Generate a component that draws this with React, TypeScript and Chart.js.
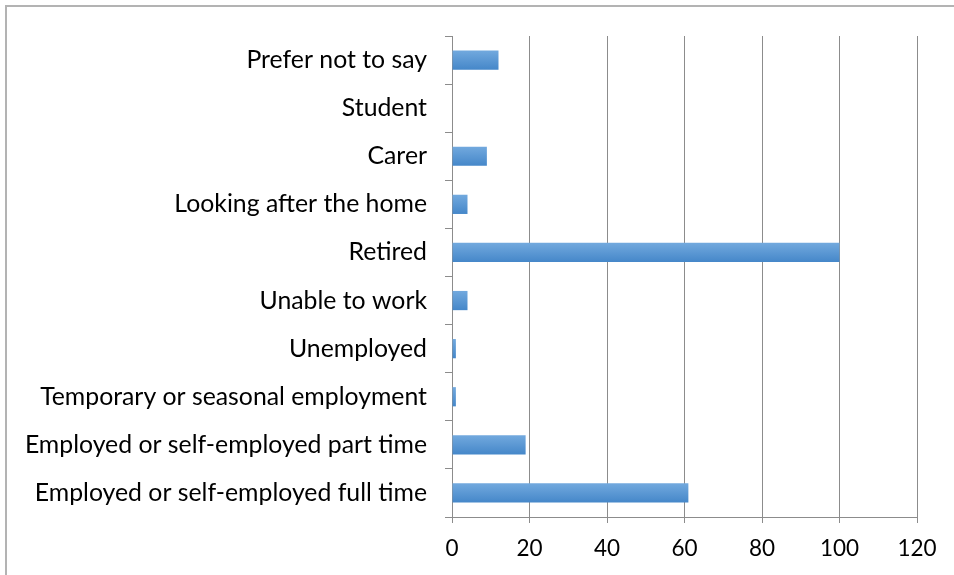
import React, { useEffect, useRef } from "react";
import { Chart, registerables } from "chart.js";

Chart.register(...registerables);

const categories = [
  "Prefer not to say",
  "Student",
  "Carer",
  "Looking after the home",
  "Retired",
  "Unable to work",
  "Unemployed",
  "Temporary or seasonal employment",
  "Employed or self-employed part time",
  "Employed or self-employed full time",
];
const counts = [12, 0, 9, 4, 100, 4, 1, 1, 19, 61];
const xMin = 0;
const xMax = 120;
const xStep = 20;

const FONT = "Lato, 'Open Sans', sans-serif";
const AXIS_GRAY = "#8c8c8c";

export default function App() {
  const ref = useRef<HTMLCanvasElement | null>(null);

  useEffect(() => {
    if (!ref.current) return;
    const chart = new Chart(ref.current, {
      type: "bar",
      data: {
        labels: categories,
        datasets: [
          {
            data: counts,
            barPercentage: 0.4,
            categoryPercentage: 1,
            borderWidth: 0,
            backgroundColor: (c: any) => {
              const ch = c.chart;
              const ys = ch.scales && ch.scales.y;
              if (!ys || c.type !== "data") return "#5b9bd5";
              const yc = ys.getPixelForValue(c.dataIndex);
              const step = Math.abs(ys.getPixelForValue(1) - ys.getPixelForValue(0));
              const half = (step * 0.4) / 2;
              if (!Number.isFinite(yc) || !Number.isFinite(half) || half <= 0) return "#5b9bd5";
              const g = ch.ctx.createLinearGradient(0, yc - half, 0, yc + half);
              g.addColorStop(0, "#72a9de");
              g.addColorStop(1, "#4587c9");
              return g;
            },
          },
        ],
      },
      options: {
        indexAxis: "y",
        responsive: true,
        maintainAspectRatio: false,
        animation: false,
        layout: { padding: { top: 36, right: 37, bottom: 0, left: 10 } },
        plugins: {
          legend: { display: false },
          tooltip: { enabled: false },
        },
        scales: {
          x: {
            min: xMin,
            max: xMax,
            ticks: {
              stepSize: xStep,
              color: "#000",
              padding: 12,
              font: { family: FONT, size: 22.5 },
            },
            grid: {
              color: AXIS_GRAY,
              lineWidth: 1,
              drawTicks: true,
              tickLength: 6,
            },
            border: { color: AXIS_GRAY, width: 1 },
            afterFit: (s: any) => {
              s.height = 58;
            },
          },
          y: {
            ticks: {
              color: "#000",
              padding: 18,
              autoSkip: false,
              font: { family: FONT, size: 24.8 },
            },
            grid: {
              color: AXIS_GRAY,
              drawOnChartArea: false,
              drawTicks: true,
              tickLength: 7,
            },
            border: { color: AXIS_GRAY, width: 1 },
            afterFit: (s: any) => {
              s.width = 442;
            },
          },
        },
      },
    } as any);
    return () => chart.destroy();
  }, []);

  return (
    <div
      style={{
        position: "fixed",
        left: 0,
        top: 0,
        width: 954,
        height: 575,
        background: "#fff",
      }}
    >
      <div
        style={{
          position: "absolute",
          left: 5,
          top: 5,
          right: -10,
          bottom: -10,
          borderLeft: "2px solid #b3b3b3",
          borderTop: "2px solid #b3b3b3",
        }}
      />
      <canvas ref={ref} style={{ position: "absolute", left: 0, top: 0 }} />
    </div>
  );
}
